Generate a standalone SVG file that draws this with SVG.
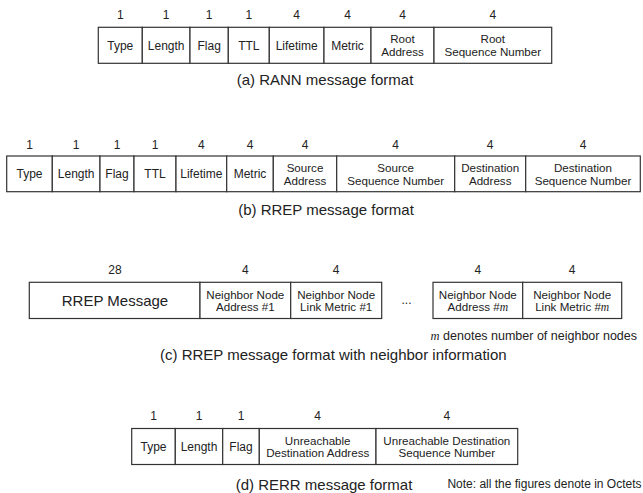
<svg xmlns="http://www.w3.org/2000/svg" width="643" height="493" viewBox="0 0 643 493">
<style>
.bx{fill:#fff;stroke:#333;stroke-width:1.2}
.t{font-family:"Liberation Sans",Arial,sans-serif;font-size:12px;fill:#222;text-anchor:middle}
.t2{font-family:"Liberation Sans",Arial,sans-serif;font-size:11.6px;fill:#222;text-anchor:middle}
.n{font-family:"Liberation Sans",Arial,sans-serif;font-size:12px;fill:#222;text-anchor:middle}
.cap{font-family:"Liberation Sans",Arial,sans-serif;font-size:15px;fill:#222;text-anchor:middle}
.big{font-family:"Liberation Sans",Arial,sans-serif;font-size:15px;fill:#222;text-anchor:middle}
.it{font-family:"Liberation Serif","Times New Roman",serif;font-style:italic}
</style>
<rect width="643" height="493" fill="#fff"/>

<!-- (a) RANN -->
<g id="rann">
<g id="a-type"><rect class="bx" x="98.3" y="27.3" width="44" height="36"/><text class="n" x="120.3" y="18.6">1</text><text class="t" x="120.3" y="49.6">Type</text></g>
<g id="a-length"><rect class="bx" x="142.3" y="27.3" width="47.7" height="36"/><text class="n" x="166.2" y="18.6">1</text><text class="t" x="166.2" y="49.6">Length</text></g>
<g id="a-flag"><rect class="bx" x="190" y="27.3" width="38.3" height="36"/><text class="n" x="209.2" y="18.6">1</text><text class="t" x="209.2" y="49.6">Flag</text></g>
<g id="a-ttl"><rect class="bx" x="228.3" y="27.3" width="41" height="36"/><text class="n" x="248.8" y="18.6">1</text><text class="t" x="248.8" y="49.6">TTL</text></g>
<g id="a-lifetime"><rect class="bx" x="269.3" y="27.3" width="54.7" height="36"/><text class="n" x="296.7" y="18.6">4</text><text class="t" x="296.7" y="49.6">Lifetime</text></g>
<g id="a-metric"><rect class="bx" x="324" y="27.3" width="47" height="36"/><text class="n" x="347.5" y="18.6">4</text><text class="t" x="347.5" y="49.6">Metric</text></g>
<g id="a-rootaddr"><rect class="bx" x="371" y="27.3" width="63" height="36"/><text class="n" x="402.5" y="18.6">4</text><text class="t2" x="402.5" y="43.2">Root</text><text class="t2" x="402.5" y="55.6">Address</text></g>
<g id="a-rootseq"><rect class="bx" x="434" y="27.3" width="117.7" height="36"/><text class="n" x="492.8" y="18.6">4</text><text class="t2" x="492.8" y="43.2">Root</text><text class="t2" x="492.8" y="55.6">Sequence Number</text></g>
<text class="cap" x="325" y="85.4">(a) RANN message format</text>
</g>

<!-- (b) RREP -->
<g id="rrep">
<g id="b-type"><rect class="bx" x="6.7" y="156" width="45.6" height="35.7"/><text class="n" x="29.5" y="149.3">1</text><text class="t" x="29.5" y="178.2">Type</text></g>
<g id="b-length"><rect class="bx" x="52.3" y="156" width="47.7" height="35.7"/><text class="n" x="76.2" y="149.3">1</text><text class="t" x="76.2" y="178.2">Length</text></g>
<g id="b-flag"><rect class="bx" x="100" y="156" width="34" height="35.7"/><text class="n" x="117" y="149.3">1</text><text class="t" x="117" y="178.2">Flag</text></g>
<g id="b-ttl"><rect class="bx" x="134" y="156" width="42" height="35.7"/><text class="n" x="155" y="149.3">1</text><text class="t" x="155" y="178.2">TTL</text></g>
<g id="b-lifetime"><rect class="bx" x="176" y="156" width="50.7" height="35.7"/><text class="n" x="201.3" y="149.3">4</text><text class="t" x="201.3" y="178.2">Lifetime</text></g>
<g id="b-metric"><rect class="bx" x="226.7" y="156" width="46.6" height="35.7"/><text class="n" x="250" y="149.3">4</text><text class="t" x="250" y="178.2">Metric</text></g>
<g id="b-srcaddr"><rect class="bx" x="273.3" y="156" width="63.4" height="35.7"/><text class="n" x="305" y="149.3">4</text><text class="t2" x="305" y="172.1">Source</text><text class="t2" x="305" y="184.5">Address</text></g>
<g id="b-srcseq"><rect class="bx" x="336.7" y="156" width="118" height="35.7"/><text class="n" x="395.7" y="149.3">4</text><text class="t2" x="395.7" y="172.1">Source</text><text class="t2" x="395.7" y="184.5">Sequence Number</text></g>
<g id="b-dstaddr"><rect class="bx" x="454.7" y="156" width="71" height="35.7"/><text class="n" x="490.2" y="149.3">4</text><text class="t2" x="490.2" y="172.1">Destination</text><text class="t2" x="490.2" y="184.5">Address</text></g>
<g id="b-dstseq"><rect class="bx" x="525.7" y="156" width="114.6" height="35.7"/><text class="n" x="583" y="149.3">4</text><text class="t2" x="583" y="172.1">Destination</text><text class="t2" x="583" y="184.5">Sequence Number</text></g>
<text class="cap" x="326" y="215.4">(b) RREP message format</text>
</g>

<!-- (c) RREP with neighbor info -->
<g id="rrep-nbr">
<g id="c-rrep"><rect class="bx" x="29.3" y="282.3" width="170.7" height="36.2"/><text class="n" x="115" y="274.3">28</text><text class="big" x="115" y="305.6">RREP Message</text></g>
<g id="c-addr1"><rect class="bx" x="200" y="282.3" width="90.7" height="36.2"/><text class="n" x="245.3" y="274.3">4</text><text class="t2" x="245.3" y="298.8">Neighbor Node</text><text class="t2" x="245.3" y="311.2">Address #1</text></g>
<g id="c-metric1"><rect class="bx" x="290.7" y="282.3" width="91" height="36.2"/><text class="n" x="336.2" y="274.3">4</text><text class="t2" x="336.2" y="298.8">Neighbor Node</text><text class="t2" x="336.2" y="311.2">Link Metric #1</text></g>
<g id="c-ellipsis"><text class="t" x="406.5" y="304">...</text></g>
<g id="c-addrm"><rect class="bx" x="433" y="282.3" width="89.7" height="36.2"/><text class="n" x="477.8" y="274.3">4</text><text class="t2" x="477.8" y="298.8">Neighbor Node</text><text class="t2" x="477.8" y="311.2">Address #<tspan class="it">m</tspan></text></g>
<g id="c-metricm"><rect class="bx" x="522.7" y="282.3" width="99" height="36.2"/><text class="n" x="572.2" y="274.3">4</text><text class="t2" x="572.2" y="298.8">Neighbor Node</text><text class="t2" x="572.2" y="311.2">Link Metric #<tspan class="it">m</tspan></text></g>
<text class="t" x="637" y="339.8" style="text-anchor:end;font-size:12.5px"><tspan class="it">m</tspan> denotes number of neighbor nodes</text>
<text class="cap" x="333.3" y="360.4">(c) RREP message format with neighbor information</text>
</g>

<!-- (d) RERR -->
<g id="rerr">
<g id="d-type"><rect class="bx" x="131.7" y="428.5" width="43.6" height="36"/><text class="n" x="153.5" y="420.3">1</text><text class="t" x="153.5" y="450.8">Type</text></g>
<g id="d-length"><rect class="bx" x="175.3" y="428.5" width="47.4" height="36"/><text class="n" x="199" y="420.3">1</text><text class="t" x="199" y="450.8">Length</text></g>
<g id="d-flag"><rect class="bx" x="222.7" y="428.5" width="36.6" height="36"/><text class="n" x="241" y="420.3">1</text><text class="t" x="241" y="450.8">Flag</text></g>
<g id="d-uaddr"><rect class="bx" x="259.3" y="428.5" width="116.7" height="36"/><text class="n" x="317.7" y="420.3">4</text><text class="t2" x="317.7" y="444.6">Unreachable</text><text class="t2" x="317.7" y="457">Destination Address</text></g>
<g id="d-useq"><rect class="bx" x="376" y="428.5" width="141.7" height="36"/><text class="n" x="446.8" y="420.3">4</text><text class="t2" x="446.8" y="444.6">Unreachable Destination</text><text class="t2" x="446.8" y="457">Sequence Number</text></g>
<text class="cap" x="324" y="489.5">(d) RERR message format</text>
<text class="t" x="641.5" y="488.3" style="text-anchor:end">Note: all the figures denote in Octets</text>
</g>
<g id="connectors"/>
</svg>
